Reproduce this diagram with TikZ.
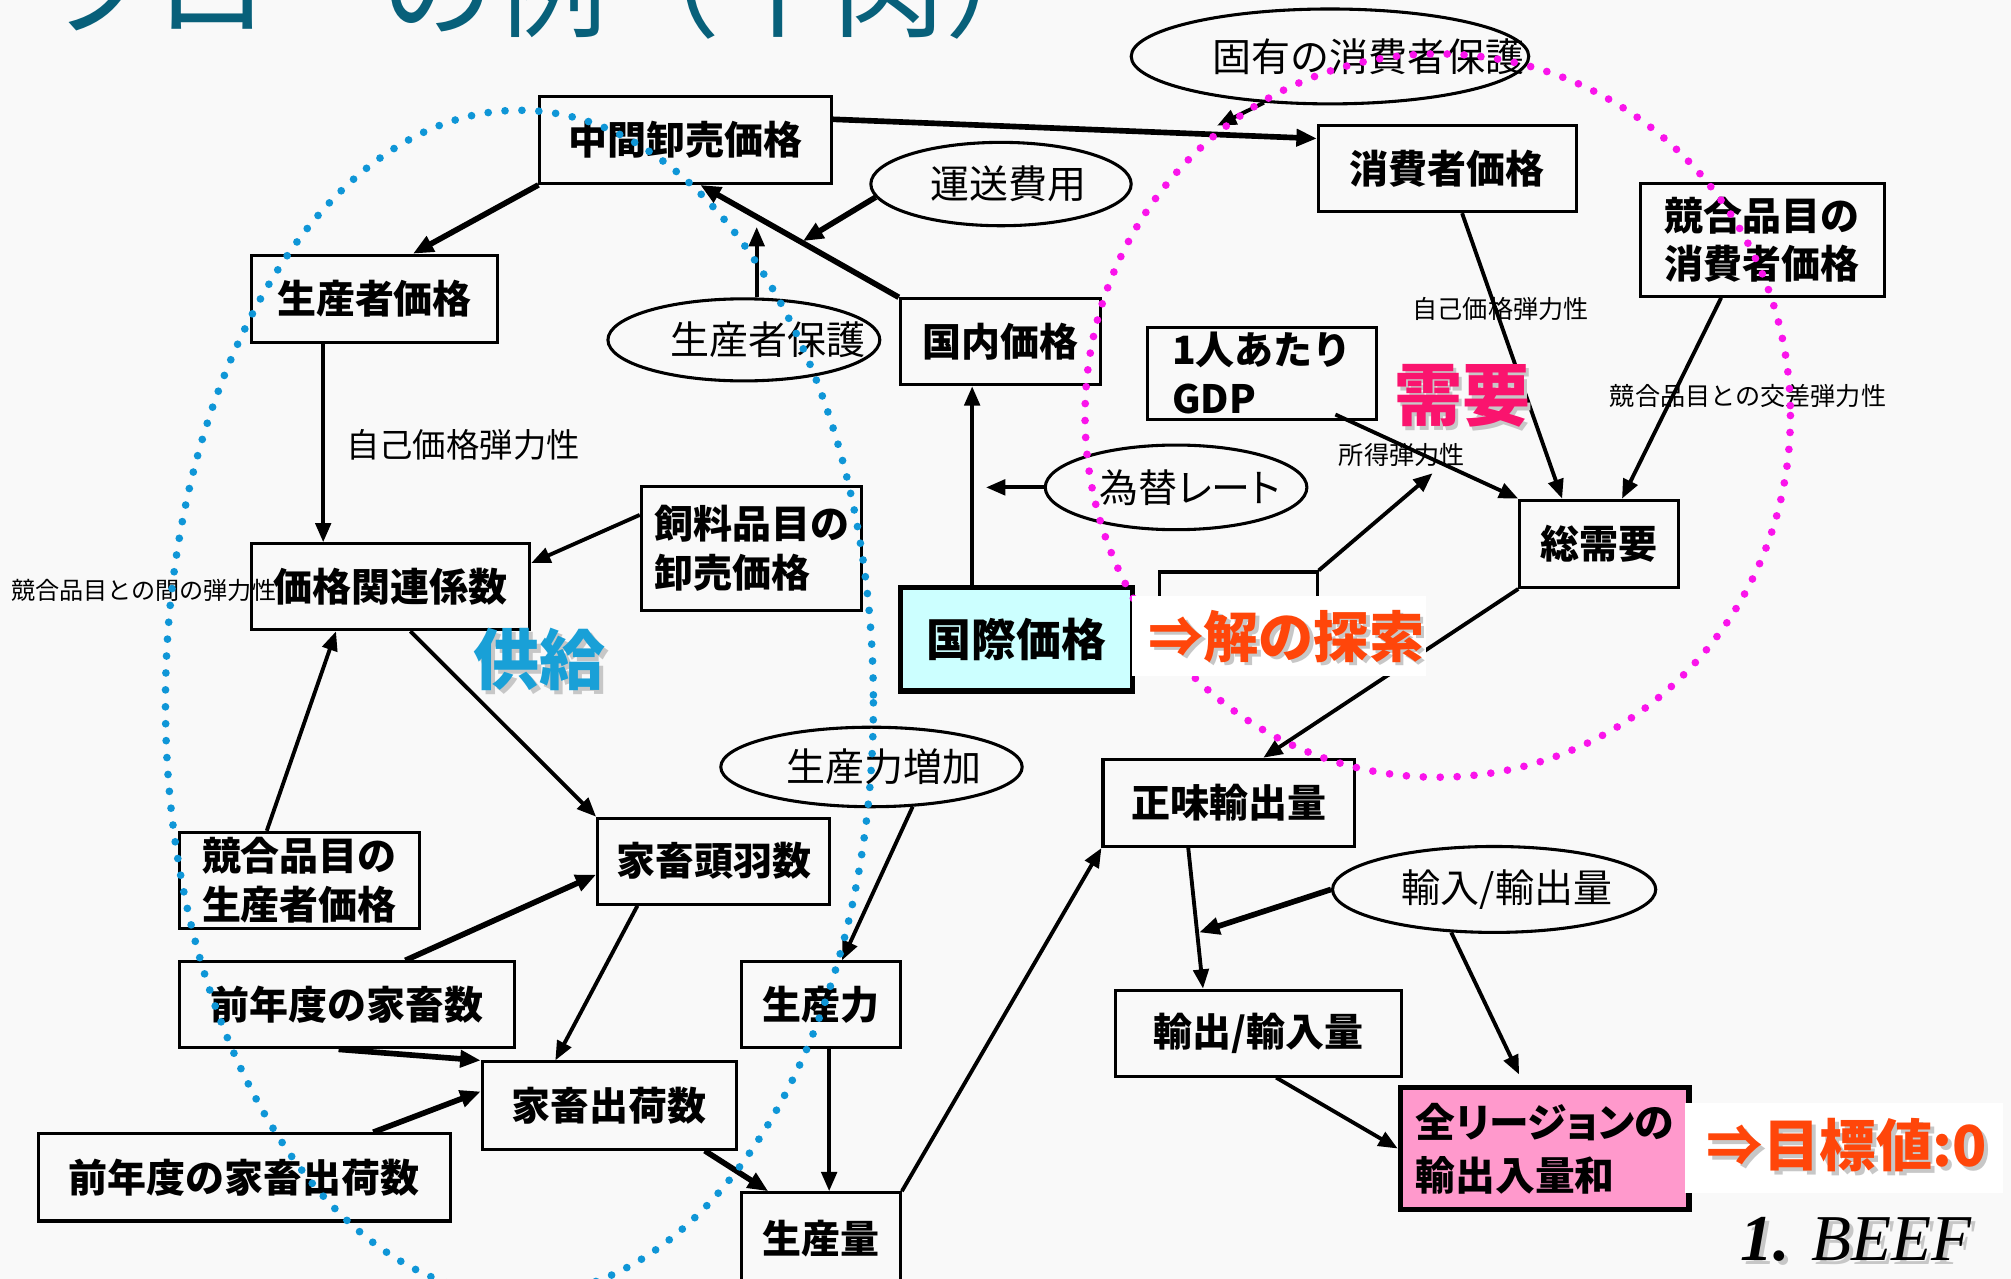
\documentclass[tikz,border=0pt]{standalone}
\usepackage{fontspec}
\usetikzlibrary{shapes.geometric,arrows.meta,calc}
\newfontfamily\jp{Noto Sans CJK JP}
\newfontfamily\jpp{Noto Sans CJK JP}[RawFeature=+palt]
\newfontfamily\ser{Liberation Serif}
\definecolor{bgc}{RGB}{249,249,249}
\definecolor{titlec}{RGB}{8,96,122}
\definecolor{ipfill}{RGB}{204,255,255}
\definecolor{sumfill}{RGB}{255,153,204}
\definecolor{dotblue}{RGB}{15,150,215}
\definecolor{dotpink}{RGB}{250,20,235}
\definecolor{demandc}{RGB}{250,20,110}
\definecolor{supplyc}{RGB}{25,160,215}
\definecolor{hotc}{RGB}{255,70,10}
\begin{document}
\begin{tikzpicture}[x=0.5pt,y=-0.5pt,
  box/.style={draw=black,line width=1.2pt,rectangle,inner sep=0pt,align=left,font=\jp\bfseries\fontsize{15.2}{19}\selectfont},
  oval/.style={draw=black,line width=1.2pt,ellipse,inner sep=0pt},
  otext/.style={inner sep=0pt,font=\jp\fontsize{15.2}{19}\selectfont},
  lab/.style={inner sep=0pt,font=\jp\fontsize{9.8}{12}\selectfont},
  arr/.style={line width=1.5pt,-{Triangle[length=7.5pt,width=6pt]}},
  tarr/.style={line width=2.2pt,-{Triangle[length=8pt,width=6.5pt]}},
  bluedots/.style={draw=dotblue,line width=3pt,line cap=round,dash pattern=on 0pt off 6.6pt},
  pinkdots/.style={draw=dotpink,line width=3pt,line cap=round,dash pattern=on 0pt off 6.6pt},
  shadowtext/.style={text=black!22},
]
\useasboundingbox (0,0) rectangle (1568,997);
\clip (0,0) rectangle (1568,997);
\fill[bgc] (0,0) rectangle (1568,997);

% title (cut off at the top, as in the reference)
\node[anchor=base west,inner sep=0pt,font=\jp\fontsize{44}{50}\selectfont,text=titlec] (title) at (33,22) {フローの例（牛肉）};

% boxes
\node[box,minimum width=113.5pt,minimum height=34pt] (m1) at (534.5,109) {中間卸売価格};
\node[box,minimum width=100.5pt,minimum height=33.5pt] (cp) at (1128.5,131.5) {消費者価格};
\node[box,minimum width=95pt,minimum height=44pt] (ccp) at (1374,187) {競合品目の\\消費者価格};
\node[box,minimum width=96pt,minimum height=34pt] (pp) at (292,233) {生産者価格};
\node[box,minimum width=78pt,minimum height=33.5pt] (dp) at (780,266.5) {国内価格};
\node[box,minimum width=89pt,minimum height=36pt] (gdp) at (984,291) {1人あたり\\GDP};
\node[box,minimum width=62pt,minimum height=34pt] (td) at (1247,424) {総需要};
\node[box,minimum width=86pt,minimum height=48.5pt] (feed) at (586,427.5) {飼料品目の\\卸売価格};
\node[box,minimum width=108.5pt,minimum height=33.5pt] (pc) at (304.5,457.5) {価格関連係数};
\node[box,fill=ipfill,line width=2.2pt,minimum width=90.5pt,minimum height=40.5pt,font=\jp\bfseries\fontsize{17.5}{21}\selectfont] (ip) at (792.5,498.5) {国際価格};
\node[box,minimum width=61.5pt,minimum height=33.5pt] (hid) at (965.5,479.5) {};
\node[box,minimum width=98pt,minimum height=34pt] (ne) at (958,626) {正味輸出量};
\node[box,minimum width=90.5pt,minimum height=33.5pt] (ls) at (556.5,671.5) {家畜頭羽数};
\node[box,minimum width=93.5pt,minimum height=37.5pt] (cpp) at (233.5,686.5) {競合品目の\\生産者価格};
\node[box,minimum width=130.5pt,minimum height=33.5pt] (pl) at (270.5,783.5) {前年度の家畜数};
\node[box,minimum width=62pt,minimum height=33.5pt] (pw) at (640,783.5) {生産力};
\node[box,minimum width=111.5pt,minimum height=33.5pt] (ei) at (981.5,805.5) {輸出/輸入量};
\node[box,minimum width=99pt,minimum height=34pt] (sh) at (475,862) {家畜出荷数};
\node[box,minimum width=160.5pt,minimum height=34pt] (psh) at (190.5,918) {前年度の家畜出荷数};
\node[box,fill=sumfill,line width=2.2pt,minimum width=112.5pt,minimum height=47.5pt,font=\jpp\bfseries\fontsize{15.5}{20.5}\selectfont] (sum) at (1204.5,895.5) {全リージョンの\\輸出入量和};
\node[box,minimum width=62pt,minimum height=36pt] (pq) at (640,966) {生産量};

% ellipses
\node[oval,minimum width=155pt,minimum height=37pt] (e1) at (1037,44) {};
\node[otext] (t1) at (1067,44) {固有の消費者保護};
\node[oval,minimum width=101.5pt,minimum height=32.5pt] (e2) at (780.5,143.5) {};
\node[otext] (t2) at (786,143.5) {運送費用};
\node[oval,minimum width=106pt,minimum height=32pt] (e3) at (580,265) {};
\node[otext] (t3) at (599,265) {生産者保護};
\node[oval,minimum width=102pt,minimum height=33pt] (e4) at (917,380) {};
\node[otext,font=\jpp\fontsize{15.2}{19}\selectfont] (t4) at (928,380) {為替レート};
\node[oval,minimum width=117.5pt,minimum height=31pt] (e5) at (679.5,598) {};
\node[otext] (t5) at (689,598) {生産力増加};
\node[oval,minimum width=126pt,minimum height=33.5pt] (e6) at (1165,693.5) {};
\node[otext] (t6) at (1175,693.5) {輸入/輸出量};

% labels
\node[inner sep=0pt,font=\jp\fontsize{13}{15}\selectfont] (l1) at (361,347) {自己価格弾力性};
\node[lab] (l2) at (1170,241) {自己価格弾力性};
\node[lab] (l3) at (1363,309) {競合品目との交差弾力性};
\node[lab] (l4) at (1093,355) {所得弾力性};
\node[lab,font=\jp\fontsize{9.4}{12}\selectfont] (l5) at (112,460) {競合品目との間の弾力性};

% connectors
\coordinate (j1) at (949,98);
\coordinate (j2) at (626,188);
\coordinate (j3) at (590,177);
\coordinate (j6) at (935,727);
\coordinate (j7) at (1117,369);
\draw[tarr] ($(m1.east)+(0,-16)$) -- ($(cp.west)+(0,-23.5)$);
\draw[arr] (e1.215) -- (j1);
\draw[tarr] (m1.south west) -- ($(pp.north)+(30,0)$);
\draw[tarr] (dp.north west) -- ($(m1.south)+(11.5,0)$);
\draw[tarr] (e2.186) -- (j2);
\draw[arr] ($(e3.north)+(10,0)$) -- (j3);
\draw[arr] ($(ip.north)+(-34.5,0)$) coordinate (v1) -- (v1 |- dp.south);
\draw[arr] (e4.west) -- ++(-45,0);
\draw[arr] ($(pp.south)+(-40,0)$) coordinate (v2) -- (v2 |- pc.north);
\draw[arr] ($(feed.west)+(0,-26)$) -- ($(pc.east)+(0,-18.5)$);
\draw[arr] ($(cpp.north)+(-25.5,0)$) -- ($(pc.south)+(-42.5,0)$);
\draw[arr] ($(pc.south)+(15.5,0)$) -- (ls.north west);
\draw[tarr] ($(pl.north)+(45.5,0)$) -- ($(ls.west)+(0,10.5)$);
\draw[arr] ($(ls.south)+(-59.5,0)$) -- ($(sh.north)+(-42,0)$);
\draw[tarr] ($(pl.south)+(-6.5,0)$) -- (sh.north west);
\draw[tarr] ($(psh.north)+(100.5,0)$) -- ($(sh.west)+(0,-11)$);
\draw[tarr] ($(sh.south)+(74.5,0)$) -- ($(pq.north)+(-41,0)$);
\draw[arr] (e5.316) -- ($(pw.north)+(16.5,0)$);
\draw[arr] ($(pw.south)+(6.5,0)$) coordinate (v3) -- (v3 |- pq.north);
\draw[arr] (pq.north east) -- (ne.south west);
\draw[arr] ($(ne.south)+(-31.5,0)$) -- ($(ei.north)+(-43.5,0)$);
\draw[tarr] (e6.west) -- (j6);
\draw[arr] (e6.225) -- ($(sum.north)+(-20,-8)$);
\draw[arr] ($(ei.south)+(13.5,0)$) -- (sum.west);
\draw[arr] (td.south west) -- ($(ne.north)+(27,0)$);
\draw[arr] (hid.north east) -- (j7);
\draw[arr] ($(gdp.south east)+(-33,-5)$) -- (td.north west);
\draw[arr] ($(cp.south)+(11.5,0)$) -- ($(td.north)+(-29,0)$);
\draw[arr] ($(ccp.south)+(-32,0)$) -- ($(td.north)+(17.7,0)$);

% dotted regions
\draw[bluedots] (405,548) ellipse [x radius=276, y radius=462];
\draw[pinkdots] (1121,324) ellipse [x radius=275, y radius=282];

% region titles
\node[shadowtext,font=\jp\bfseries\fontsize{26.5}{30}\selectfont] (dms) at (1143,312) {需要};
\node[text=demandc,font=\jp\bfseries\fontsize{26.5}{30}\selectfont] (dm) at (1140,309) {需要};
\node[shadowtext,font=\jp\bfseries\fontsize{25.75}{30}\selectfont] (sps) at (424,517) {供給};
\node[text=supplyc,font=\jp\bfseries\fontsize{25.75}{30}\selectfont] (sp) at (421,514) {供給};

% highlighted notes on white
\fill[white] (883,465) rectangle (1112,527);
\node[shadowtext,font=\jp\bfseries\fontsize{21.5}{24}\selectfont] (s1s) at (1006,499) {⇒解の探索};
\node[text=hotc,font=\jp\bfseries\fontsize{21.5}{24}\selectfont] (s1) at (1003,496) {⇒解の探索};
\fill[white] (1314,860) rectangle (1562,930);
\node[shadowtext,font=\jp\bfseries\fontsize{22}{24}\selectfont] (s2s) at (1443,896) {⇒目標値:0};
\node[text=hotc,font=\jp\bfseries\fontsize{22}{24}\selectfont] (s2) at (1440,893) {⇒目標値:0};

\node[anchor=base west,inner sep=0pt,shadowtext,font=\ser\itshape\fontsize{25.5}{30}\selectfont] (beefs) at (1360,986) {{\bfseries 1.} BEEF};
\node[anchor=base west,inner sep=0pt,font=\ser\itshape\fontsize{25.5}{30}\selectfont] (beef) at (1357,983) {{\bfseries 1.} BEEF};
\end{tikzpicture}
\end{document}
